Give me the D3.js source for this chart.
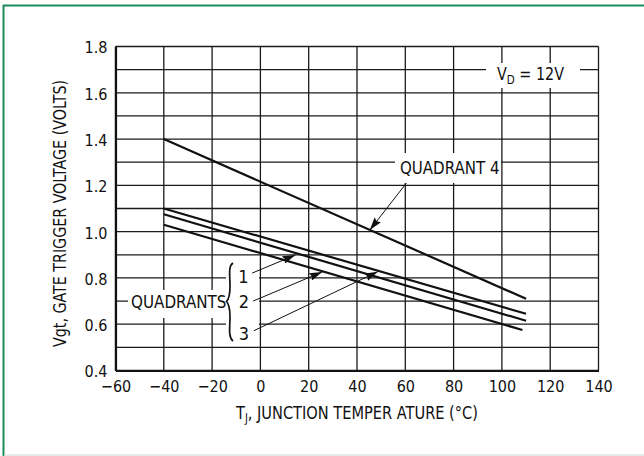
<!DOCTYPE html>
<html>
<head>
<meta charset="utf-8">
<script src="https://cdn.jsdelivr.net/npm/d3@7"></script>
<style>
  html, body { margin: 0; padding: 0; background: #fff; }
  text { font-family: "Liberation Sans Narrow", "DejaVu Sans Condensed", "Liberation Sans", sans-serif; fill: #111; }
</style>
</head>
<body>
<svg id="chart" width="644" height="456"></svg>
<script>
// ---- data ----
var xTicks = [-60, -40, -20, 0, 20, 40, 60, 80, 100, 120, 140];
var yTicks = [0.4, 0.6, 0.8, 1.0, 1.2, 1.4, 1.6, 1.8];
var yGrid = [0.4, 0.5, 0.6, 0.7, 0.8, 0.9, 1.0, 1.1, 1.2, 1.3, 1.4, 1.5, 1.6, 1.7, 1.8];

// [T (degC), Vgt (V)]
var quadrant4 = [[-40, 1.40], [110, 0.71]];
var quadUpper = [[-40, 1.10], [110, 0.645]];
var quadMiddle = [[-40, 1.075], [110, 0.615]];
var quadLower = [[-40, 1.03], [108.5, 0.575]];

// leader lines: from label to arrow tip
var leader4 = [[60.4, 1.209], [45.3, 1.007]];
var leader1 = [[-3.4, 0.821], [14.5, 0.899]];
var leader2 = [[-3.0, 0.700], [25.6, 0.826]];
var leader3 = [[-2.7, 0.572], [48.6, 0.827]];

var svg = d3.select("#chart");

var x = d3.scaleLinear().domain([-60, 140]).range([115.5, 598.5]);
var y = d3.scaleLinear().domain([0.4, 1.8]).range([370.5, 46.5]);

// frame
svg.append("line").attr("x1", 3.5).attr("y1", 5).attr("x2", 3.5).attr("y2", 456)
    .attr("stroke", "#1d8a5c").attr("stroke-width", 2);
svg.append("line").attr("x1", 3).attr("y1", 5.5).attr("x2", 644).attr("y2", 5.5)
    .attr("stroke", "#1d8a5c").attr("stroke-width", 2);
svg.append("line").attr("x1", 4).attr("y1", 455).attr("x2", 644).attr("y2", 455)
    .attr("stroke", "#dde6e2").attr("stroke-width", 1.5);

// grid
var grid = svg.append("g").attr("stroke", "#1a1a1a").attr("stroke-width", 1.3);
grid.selectAll(".hg").data(yGrid).enter().append("line")
    .attr("x1", x(-60)).attr("x2", x(140))
    .attr("y1", function(d) { return y(d); }).attr("y2", function(d) { return y(d); });
grid.selectAll(".vg").data(xTicks).enter().append("line")
    .attr("y1", y(0.4)).attr("y2", y(1.8))
    .attr("x1", function(d) { return x(d); }).attr("x2", function(d) { return x(d); });

// axes (heavier left / bottom)
var xAxis = d3.axisBottom(x).tickValues(xTicks).tickSize(0).tickPadding(11)
    .tickFormat(function(d) { return d < 0 ? "\u2212" + Math.abs(d) : d; });
var gx = svg.append("g").attr("transform", "translate(0," + y(0.4) + ")").call(xAxis);
gx.select(".domain").attr("stroke", "#111").attr("stroke-width", 2.2);
gx.selectAll("text").attr("font-size", 16).attr("fill", "#111")
    .attr("font-family", null).attr("dy", "0.68em");

var yAxis = d3.axisLeft(y).tickValues(yTicks).tickSize(0).tickPadding(8)
    .tickFormat(d3.format(".1f"));
var gy = svg.append("g").attr("transform", "translate(" + x(-60) + ",0)").call(yAxis);
gy.select(".domain").attr("stroke", "#111").attr("stroke-width", 2.2);
gy.selectAll("text").attr("font-size", 16).attr("fill", "#111")
    .attr("font-family", null).attr("dy", "0.4em");

// white patches where the labels break the grid
var patches = [
    [486, 63, 94, 25],   // V_D
    [395, 153, 106, 30], // QUADRANT 4
    [128, 290, 100, 28], // QUADRANTS
    [226, 262, 33, 81]   // brace + 1 2 3
];
svg.selectAll(".patch").data(patches).enter().append("rect")
    .attr("x", function(d) { return d[0]; }).attr("y", function(d) { return d[1]; })
    .attr("width", function(d) { return d[2]; }).attr("height", function(d) { return d[3]; })
    .attr("fill", "#fff");

// curves
var line = d3.line().x(function(d) { return x(d[0]); }).y(function(d) { return y(d[1]); });
[quadrant4, quadUpper, quadMiddle, quadLower].forEach(function(s) {
    svg.append("path").attr("d", line(s)).attr("fill", "none")
        .attr("stroke", "#111").attr("stroke-width", 2.2);
});

// arrow marker
svg.append("defs").append("marker")
    .attr("id", "arr").attr("markerUnits", "userSpaceOnUse")
    .attr("viewBox", "0 0 13 8").attr("refX", 13).attr("refY", 4)
    .attr("markerWidth", 13).attr("markerHeight", 8).attr("orient", "auto")
    .append("path").attr("d", "M0,0 L13,4 L0,8 L2,4 Z").attr("fill", "#111");

[leader4, leader1, leader2, leader3].forEach(function(s) {
    svg.append("path").attr("d", line(s)).attr("fill", "none")
        .attr("stroke", "#111").attr("stroke-width", 1)
        .attr("marker-end", "url(#arr)");
});

// brace
svg.append("path")
    .attr("d", "M233,263 C228,266 230,276 230,286 C230,296 229,299 226.5,301.5 " +
               "C229,304 230,307 230,317 C230,327 228,337 233,341")
    .attr("fill", "none").attr("stroke", "#111").attr("stroke-width", 1.7);

// labels
function label(txt, xx, yy, len, size) {
    return svg.append("text").attr("x", xx).attr("y", yy).attr("font-size", size || 18)
        .attr("textLength", len).attr("lengthAdjust", "spacingAndGlyphs").text(txt);
}
label("QUADRANT 4", 400, 174.3, 99.5);
label("QUADRANTS", 131, 308.3, 95.5);
svg.append("text").attr("x", 243.5).attr("y", 283.3).attr("font-size", 18).attr("text-anchor", "middle").text("1");
svg.append("text").attr("x", 244).attr("y", 308.3).attr("font-size", 18).attr("text-anchor", "middle").text("2");
svg.append("text").attr("x", 244).attr("y", 339.5).attr("font-size", 18).attr("text-anchor", "middle").text("3");

var vd = svg.append("text").attr("x", 497).attr("y", 80).attr("font-size", 18)
    .attr("textLength", 67).attr("lengthAdjust", "spacingAndGlyphs");
vd.append("tspan").text("V");
vd.append("tspan").attr("font-size", 13).attr("dy", 4).text("D");
vd.append("tspan").attr("dy", -4).text(" = 12V");

// axis titles
var xt = svg.append("text").attr("x", 236).attr("y", 419).attr("font-size", 18)
    .attr("textLength", 242).attr("lengthAdjust", "spacingAndGlyphs");
xt.append("tspan").text("T");
xt.append("tspan").attr("font-size", 12).attr("dy", 3).text("J");
xt.append("tspan").attr("dy", -3).text(", JUNCTION TEMPER ATURE (\u00b0C)");

svg.append("text").attr("transform", "translate(66,347) rotate(-90)")
    .attr("font-size", 18).attr("textLength", 267).attr("lengthAdjust", "spacingAndGlyphs")
    .text("Vgt, GATE TRIGGER VOLTAGE (VOLTS)");
</script>
</body>
</html>
